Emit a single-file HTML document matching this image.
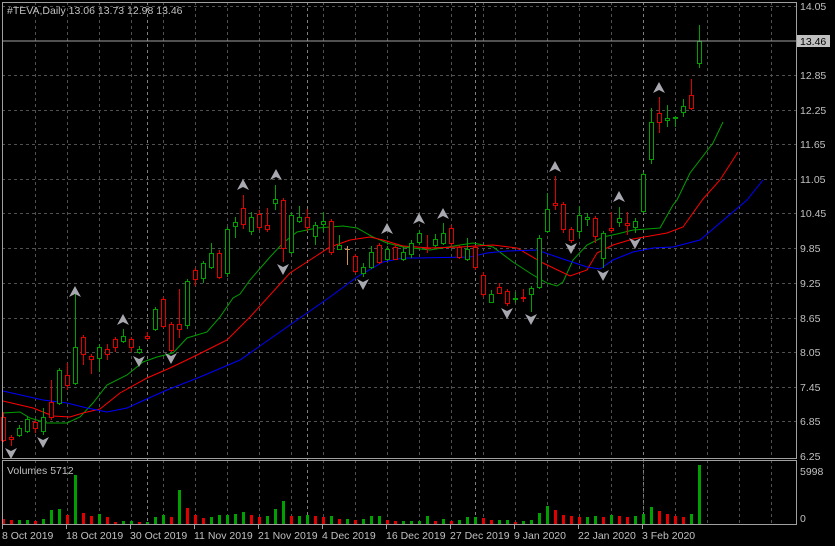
<!DOCTYPE html>
<html><head><meta charset="utf-8"><style>
html,body{margin:0;padding:0;background:#000;}
svg{display:block;font-family:"Liberation Sans",sans-serif;}
</style></head><body>
<svg id="c" width="835" height="546" xmlns="http://www.w3.org/2000/svg">
<rect width="835" height="546" fill="#000"/>
<g id="grid" stroke="#505050" stroke-dasharray="3,3" stroke-width="1"></g>
<g id="ma" fill="none" stroke-width="1">
<polyline stroke="#00a000" points="3,413 20,412 30,418 47,423 67,423 80,417 93,403 107,385 127,375 143,362 157,357 173,353 187,338 207,332 220,317 233,298 240,294 250,280 270,257 283,243 297,232 317,228 343,226 357,228 373,237 387,243 403,247 430,250 460,245 473,243 493,247 513,262 533,275 547,283 557,286 563,282 573,260 587,245 603,237 617,234 633,230 660,228 673,205 677,200 690,173 713,143 723,122"/>
<polyline stroke="#ff0000" points="3,401 33,408 53,416 70,417 83,413 100,409 120,393 147,378 170,368 193,357 207,350 227,340 240,327 250,317 290,273 310,260 330,247 350,240 370,237 383,240 403,246 430,248 460,247 493,245 517,248 543,263 570,276 587,270 597,253 613,245 633,239 667,233 683,227 703,199 720,180 738,152"/>
<polyline stroke="#0000ff" points="3,391 43,400 67,403 87,408 107,412 127,408 140,402 167,390 200,377 240,360 297,320 330,297 357,277 383,262 403,258 417,258 470,257 487,253 507,251 537,250 560,258 587,267 600,269 613,260 633,252 653,248 673,247 700,240 747,200 763,180"/>
</g>
<g id="cd"></g>
<g id="ar"></g>
<g id="vol"></g>
<line x1="2" y1="41" x2="796" y2="41" stroke="#a0a0a0" stroke-width="1"/>
<rect x="2.5" y="2.5" width="794" height="456" fill="none" stroke="#a0a0a0"/>
<rect x="2.5" y="460.5" width="794" height="64" fill="none" stroke="#a0a0a0"/>
<text x="7" y="14" fill="#c0c0c0" font-size="10.5">#TEVA,Daily  13.06 13.73 12.98 13.46</text>
<text x="7" y="474" fill="#c0c0c0" font-size="10.5">Volumes 5712</text>
<g fill="#c0c0c0" font-size="10.5">
<text x="800" y="10">14.05</text>
<text x="800" y="79">12.85</text>
<text x="800" y="114">12.25</text>
<text x="800" y="148">11.65</text>
<text x="800" y="183">11.05</text>
<text x="800" y="217">10.45</text>
<text x="800" y="252">9.85</text>
<text x="800" y="287">9.25</text>
<text x="800" y="322">8.65</text>
<text x="800" y="356">8.05</text>
<text x="800" y="391">7.45</text>
<text x="800" y="425">6.85</text>
<text x="800" y="460">6.25</text>
<text x="800" y="475">5998</text>
<text x="800" y="522">0</text>
</g>
<rect x="797" y="35" width="33" height="12" fill="#c0c0c0"/>
<text x="800" y="45" fill="#000" font-size="10.5">13.46</text>
<g fill="#c0c0c0" font-size="10.5" id="dates">
<text x="2" y="539">8 Oct 2019</text>
<text x="66" y="539">18 Oct 2019</text>
<text x="130" y="539">30 Oct 2019</text>
<text x="194" y="539">11 Nov 2019</text>
<text x="258" y="539">21 Nov 2019</text>
<text x="322" y="539">4 Dec 2019</text>
<text x="386" y="539">16 Dec 2019</text>
<text x="450" y="539">27 Dec 2019</text>
<text x="514" y="539">9 Jan 2020</text>
<text x="578" y="539">22 Jan 2020</text>
<text x="642" y="539">3 Feb 2020</text>
</g>
</svg>
<script>
var NS="http://www.w3.org/2000/svg";
function el(p,t,a){var e=document.createElementNS(NS,t);for(var k in a)e.setAttribute(k,a[k]);p.appendChild(e);return e;}
var g=document.getElementById('grid');
[6,75,110,144,179,213,248,283,318,352,387,421].forEach(function(y){el(g,'line',{x1:2,x2:796,y1:y+.5,y2:y+.5});});
for(var x=35;x<796;x+=32){el(g,'line',{x1:x+.5,x2:x+.5,y1:2,y2:458});el(g,'line',{x1:x+.5,x2:x+.5,y1:460,y2:524});}
[147,307,475,643].forEach(function(x){el(g,'line',{x1:x+.5,x2:x+.5,y1:2,y2:524,stroke:'#808080'});});
[2,66,130,194,258,322,386,450,514,578,642].forEach(function(x){el(g,'line',{x1:x+.5,x2:x+.5,y1:524,y2:529,stroke:'#a0a0a0','stroke-dasharray':'none'});});
var D=[[417,440,412,442,'r'],[437,439,435,446,'r'],[428,435,425,437,'g'],[419,431,416,433,'g'],[422,428,420,433,'r'],[417,431,408,435,'g'],[402,417,380,420,'r'],[370,403,368,405,'g'],[375,385,363,390,'r'],[347,383,290,385,'g'],
[337,354,335,365,'r'],[356,359,354,374,'r'],[347,358,344,372,'g'],[349,354,344,360,'r'],[339,347,337,352,'r'],[336,341,329,343,'g'],[339,347,337,352,'r'],[349,352,346,354,'g'],[336,338,332,340,'r'],[309,329,307,331,'g'],
[299,326,297,328,'r'],[324,350,322,352,'r'],[324,329,289,338,'r'],[281,325,279,329,'g'],[270,279,268,286,'r'],[263,278,261,283,'g'],[253,267,243,269,'g'],[253,277,250,279,'r'],[229,273,227,277,'g'],[222,226,217,238,'g'],
[208,224,195,229,'r'],[217,231,212,235,'g'],[214,227,210,230,'r'],[225,229,208,232,'r'],[199,203,185,210,'g'],[200,248,198,262,'r'],[215,252,212,254,'g'],[217,221,206,223,'g'],[217,227,209,231,'r'],[225,236,222,245,'g'],
[221,224,212,232,'g'],[221,252,219,255,'r'],[245,249,235,250,'g'],[249,249,246,265,'o'],[256,271,254,273,'r'],[267,273,263,277,'g'],[252,267,246,269,'g'],[245,262,243,264,'r'],[249,259,246,261,'g'],[247,259,244,260,'r'],
[252,259,247,261,'g'],[243,254,240,258,'g'],[233,242,230,245,'g'],[248,248,235,253,'r'],[239,245,234,247,'g'],[233,243,223,245,'g'],[228,243,225,247,'r'],[247,257,245,259,'r'],[249,259,238,261,'g'],[247,267,245,270,'r'],
[275,294,272,297,'r'],[294,302,290,303,'g'],[287,293,283,294,'r'],[291,303,289,306,'r'],[298,299,292,303,'g'],[297,298,289,302,'r'],[288,294,286,312,'g'],[238,287,235,289,'g'],[209,231,193,233,'g'],[203,205,176,210,'r'],
[204,229,202,233,'r'],[229,240,227,243,'r'],[215,231,206,238,'g'],[217,219,213,226,'g'],[218,236,216,243,'r'],[233,258,231,268,'g'],[228,230,212,233,'r'],[218,222,207,227,'g'],[223,225,212,235,'r'],[221,227,218,233,'g'],
[174,211,172,213,'g'],[122,159,108,164,'g'],[113,122,97,133,'r'],[118,120,105,127,'g'],[117,118,116,127,'g'],[106,112,99,117,'g'],[95,108,79,110,'r'],[41,63,25,68,'g']];
var C={r:'#e00000',g:'#00a000',o:'#d09050'};
var cd=document.getElementById('cd');
D.forEach(function(d,i){var x=3+8*i,c=C[d[4]];
el(cd,'line',{x1:x+.5,x2:x+.5,y1:d[2],y2:d[3],stroke:c});
if(d[1]-d[0]<1){el(cd,'line',{x1:x-2,x2:x+3,y1:d[0]+.5,y2:d[0]+.5,stroke:c});}
else el(cd,'rect',{x:x-1.5,y:d[0]+.5,width:4,height:d[1]-d[0],fill:'#000',stroke:c});});
var ar=document.getElementById('ar');
var up=[[75,292],[123,320],[243,185],[276,175],[387,229],[419,219],[443,214],[555,167],[619,197],[659,88]];
var dn=[[11,453],[43,442],[139,361],[171,358],[283,269],[363,284],[507,313],[531,319],[571,248],[603,275],[635,243]];
up.forEach(function(p){el(ar,'path',{d:'M'+p[0]+','+(p[1]-6)+' l6,11 l-6,-3 l-6,3 z',fill:'#a8a8b0'});});
dn.forEach(function(p){el(ar,'path',{d:'M'+p[0]+','+(p[1]+6)+' l6,-11 l-6,3 l-6,-3 z',fill:'#a8a8b0'});});
var V=[5,4,4,4,3,5,14,15,9,49,11,8,10,7,2,3,3,2,2,7,9,7,34,16,9,6,7,9,9,10,12,9,7,8,15,23,8,8,9,8,7,8,5,5,4,5,8,8,4,3,3,3,3,8,3,5,3,4,7,7,6,4,4,4,2,3,4,11,18,14,9,8,7,7,8,7,9,8,7,8,10,17,13,10,8,7,10,59];
var vg=document.getElementById('vol');
V.forEach(function(h,i){var x=3+8*i;var c=(i>0&&h>=V[i-1])?C.g:C.r;if(i==0)c=C.r;
el(vg,'rect',{x:x-1,y:524-h,width:3,height:h,fill:c});});
</script>
</body></html>
